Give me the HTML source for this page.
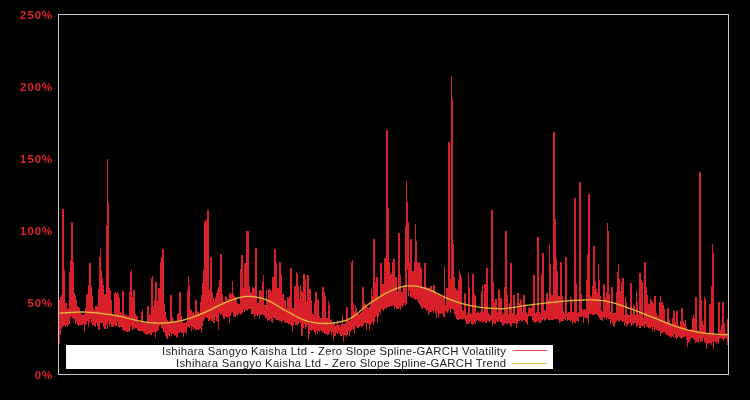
<!DOCTYPE html>
<html><head><meta charset="utf-8"><title>Volatility</title>
<style>
html,body{margin:0;padding:0;background:#000;}
body{width:750px;height:400px;position:relative;overflow:hidden;font-family:"Liberation Sans",sans-serif;}
svg{position:absolute;left:0;top:0;}
.yl{position:absolute;left:0;width:53.2px;text-align:right;color:#e2222c;font:bold 11.3px/16px "Liberation Sans",sans-serif;letter-spacing:1.05px;height:16px;will-change:transform;}
.lg{position:absolute;left:66px;top:345px;width:487px;height:24px;background:#fff;}
.lt{position:absolute;right:46.5px;white-space:nowrap;color:#1c1c1c;font:11.3px/12px "Liberation Sans",sans-serif;letter-spacing:0.27px;height:12px;will-change:transform;}
</style></head><body>
<svg width="750" height="400" viewBox="0 0 750 400">
<rect x="0" y="0" width="750" height="400" fill="#000"/>
<path d="M59.5 300V344M60.5 297V335M61.5 295V329M62.5 209V327M63.5 209V326M64.5 270V325M65.5 303V327M66.5 303V325M67.5 309V327M68.5 308V325M69.5 272V324M70.5 260V318M71.5 222V316M72.5 222V318M73.5 262V321M74.5 293V319M75.5 295V324M76.5 300V322M77.5 306V325M78.5 307V326M79.5 308V325M80.5 313V325M81.5 314V325M82.5 315V325M83.5 315V324M84.5 314V332M85.5 308V325M86.5 294V324M87.5 294V321M88.5 285V327M89.5 263V323M90.5 263V319M91.5 287V323M92.5 296V325M93.5 308V325M94.5 310V326M95.5 306V327M96.5 306V323M97.5 306V326M98.5 289V330M99.5 257V330M100.5 249V323M101.5 270V323M102.5 278V323M103.5 285V327M104.5 294V329M105.5 294V329M106.5 225V325M107.5 159V329M108.5 203V322M109.5 288V327M110.5 290V324M111.5 300V327M112.5 314V327M113.5 315V327M114.5 293V325M115.5 292V326M116.5 294V326M117.5 292V322M118.5 294V327M119.5 298V328M120.5 312V327M121.5 313V327M122.5 291V330M123.5 291V330M124.5 314V331M125.5 315V331M126.5 315V332M127.5 316V332M128.5 316V332M129.5 292V331M130.5 272V327M131.5 270V326M132.5 297V330M133.5 290V329M134.5 290V329M135.5 314V328M136.5 316V328M137.5 316V330M138.5 321V331M139.5 323V331M140.5 322V331M141.5 312V331M142.5 310V331M143.5 321V332M144.5 323V333M145.5 322V334M146.5 322V335M147.5 306V334M148.5 306V334M149.5 314V334M150.5 314V335M151.5 278V335M152.5 276V333M153.5 306V332M154.5 300V332M155.5 282V338M156.5 282V332M157.5 301V331M158.5 288V330M159.5 288V326M160.5 262V325M161.5 257V328M162.5 249V329M163.5 249V332M164.5 304V332M165.5 312V336M166.5 318V338M167.5 320V339M168.5 322V335M169.5 321V337M170.5 295V333M171.5 295V336M172.5 317V334M173.5 319V334M174.5 322V336M175.5 322V335M176.5 322V337M177.5 314V338M178.5 313V333M179.5 292V333M180.5 292V332M181.5 316V333M182.5 321V333M183.5 323V337M184.5 323V333M185.5 323V332M186.5 322V334M187.5 290V327M188.5 276V327M189.5 285V328M190.5 309V326M191.5 310V331M192.5 313V327M193.5 312V330M194.5 314V328M195.5 300V330M196.5 300V330M197.5 311V330M198.5 312V330M199.5 313V329M200.5 302V329M201.5 295V333M202.5 283V326M203.5 270V321M204.5 222V319M205.5 220V317M206.5 220V318M207.5 210V318M208.5 210V321M209.5 290V321M210.5 257V319M211.5 257V321M212.5 292V321M213.5 298V323M214.5 301V323M215.5 297V317M216.5 293V321M217.5 290V322M218.5 287V330M219.5 280V313M220.5 254V315M221.5 254V314M222.5 294V316M223.5 301V319M224.5 303V319M225.5 296V317M226.5 297V317M227.5 299V317M228.5 299V317M229.5 293V323M230.5 293V316M231.5 294V313M232.5 281V312M233.5 294V316M234.5 296V317M235.5 297V317M236.5 298V315M237.5 303V316M238.5 304V314M239.5 304V313M240.5 269V315M241.5 255V314M242.5 255V313M243.5 288V310M244.5 263V312M245.5 263V310M246.5 231V310M247.5 231V311M248.5 231V309M249.5 286V309M250.5 292V309M251.5 293V314M252.5 287V314M253.5 288V314M254.5 288V319M255.5 248V316M256.5 248V315M257.5 303V316M258.5 303V315M259.5 290V319M260.5 290V315M261.5 291V315M262.5 282V314M263.5 275V315M264.5 305V316M265.5 305V318M266.5 290V318M267.5 300V321M268.5 289V320M269.5 289V321M270.5 290V319M271.5 292V322M272.5 277V323M273.5 277V318M274.5 249V318M275.5 249V319M276.5 263V320M277.5 288V320M278.5 288V320M279.5 262V321M280.5 262V321M281.5 274V323M282.5 294V321M283.5 294V320M284.5 300V322M285.5 300V323M286.5 308V323M287.5 297V323M288.5 298V324M289.5 296V324M290.5 268V325M291.5 268V326M292.5 308V332M293.5 308V325M294.5 286V322M295.5 286V325M296.5 272V325M297.5 274V326M298.5 286V324M299.5 299V322M300.5 285V323M301.5 290V336M302.5 292V335M303.5 274V328M304.5 274V324M305.5 279V329M306.5 301V327M307.5 275V325M308.5 275V340M309.5 289V334M310.5 289V330M311.5 300V331M312.5 314V330M313.5 314V330M314.5 303V332M315.5 292V335M316.5 292V331M317.5 300V333M318.5 299V331M319.5 316V332M320.5 318V330M321.5 318V331M322.5 287V333M323.5 287V332M324.5 292V334M325.5 296V334M326.5 318V334M327.5 318V335M328.5 301V335M329.5 305V333M330.5 320V331M331.5 319V335M332.5 322V332M333.5 322V341M334.5 322V336M335.5 326V336M336.5 325V333M337.5 321V334M338.5 325V332M339.5 325V334M340.5 326V336M341.5 324V336M342.5 314V335M343.5 324V342M344.5 324V335M345.5 323V335M346.5 307V337M347.5 307V335M348.5 319V331M349.5 321V336M350.5 320V332M351.5 262V330M352.5 260V329M353.5 303V330M354.5 312V334M355.5 305V326M356.5 308V327M357.5 313V328M358.5 314V328M359.5 314V327M360.5 313V326M361.5 312V327M362.5 287V327M363.5 287V325M364.5 302V323M365.5 304V323M366.5 306V330M367.5 307V324M368.5 308V324M369.5 307V330M370.5 303V325M371.5 289V323M372.5 296V322M373.5 239V325M374.5 239V322M375.5 282V317M376.5 277V316M377.5 277V323M378.5 297V317M379.5 296V312M380.5 263V314M381.5 263V309M382.5 284V310M383.5 284V311M384.5 258V309M385.5 258V308M386.5 130V309M387.5 130V307M388.5 208V307M389.5 262V307M390.5 273V306M391.5 274V306M392.5 262V306M393.5 258V305M394.5 260V309M395.5 277V307M396.5 277V309M397.5 292V309M398.5 233V309M399.5 233V307M400.5 275V310M401.5 292V306M402.5 292V307M403.5 286V305M404.5 285V303M405.5 226V306M406.5 181V304M407.5 202V270M408.5 222V296M409.5 262V291M410.5 239V297M411.5 239V298M412.5 271V297M413.5 271V299M414.5 262V299M415.5 224V300M416.5 241V299M417.5 262V300M418.5 263V303M419.5 262V304M420.5 266V306M421.5 268V308M422.5 286V309M423.5 287V307M424.5 263V308M425.5 263V309M426.5 287V311M427.5 288V310M428.5 288V315M429.5 288V313M430.5 286V312M431.5 286V312M432.5 290V311M433.5 285V313M434.5 285V310M435.5 292V313M436.5 293V318M437.5 293V312M438.5 293V318M439.5 294V314M440.5 295V314M441.5 296V313M442.5 297V314M443.5 296V317M444.5 266V317M445.5 305V311M446.5 288V312M447.5 288V313M448.5 142V311M449.5 142V309M450.5 279V313M451.5 76V309M452.5 99V309M453.5 244V310M454.5 277V314M455.5 288V316M456.5 290V319M457.5 290V320M458.5 280V320M459.5 270V319M460.5 274V319M461.5 277V319M462.5 310V320M463.5 311V319M464.5 293V319M465.5 294V321M466.5 315V324M467.5 313V324M468.5 273V324M469.5 287V323M470.5 313V321M471.5 314V324M472.5 274V325M473.5 274V324M474.5 294V323M475.5 296V324M476.5 313V321M477.5 312V320M478.5 311V321M479.5 313V321M480.5 312V322M481.5 291V321M482.5 285V323M483.5 312V322M484.5 284V321M485.5 284V323M486.5 268V323M487.5 268V321M488.5 313V321M489.5 314V322M490.5 315V321M491.5 210V320M492.5 210V326M493.5 282V323M494.5 302V324M495.5 299V324M496.5 299V321M497.5 312V322M498.5 289V322M499.5 290V321M500.5 298V322M501.5 298V323M502.5 313V326M503.5 314V325M504.5 287V324M505.5 231V323M506.5 231V324M507.5 295V324M508.5 314V323M509.5 303V324M510.5 263V327M511.5 263V326M512.5 313V323M513.5 295V323M514.5 295V324M515.5 315V323M516.5 314V328M517.5 293V324M518.5 293V321M519.5 303V321M520.5 299V320M521.5 301V322M522.5 312V321M523.5 295V320M524.5 295V320M525.5 306V322M526.5 312V323M527.5 314V325M528.5 308V317M529.5 307V316M530.5 308V316M531.5 308V316M532.5 305V320M533.5 275V322M534.5 275V322M535.5 313V323M536.5 312V322M537.5 237V321M538.5 237V321M539.5 312V323M540.5 314V323M541.5 274V321M542.5 253V320M543.5 253V319M544.5 310V321M545.5 311V320M546.5 293V319M547.5 293V318M548.5 299V320M549.5 245V320M550.5 264V320M551.5 295V320M552.5 295V320M553.5 132V320M554.5 132V319M555.5 219V319M556.5 258V319M557.5 271V319M558.5 296V320M559.5 296V323M560.5 262V322M561.5 262V321M562.5 296V321M563.5 311V321M564.5 313V319M565.5 257V320M566.5 257V317M567.5 313V321M568.5 312V320M569.5 312V320M570.5 297V322M571.5 299V320M572.5 312V324M573.5 312V322M574.5 198V323M575.5 198V323M576.5 284V321M577.5 313V321M578.5 312V322M579.5 182V317M580.5 182V317M581.5 294V317M582.5 309V316M583.5 310V323M584.5 309V318M585.5 310V318M586.5 280V318M587.5 254V319M588.5 194V324M589.5 194V314M590.5 295V315M591.5 297V314M592.5 286V315M593.5 246V315M594.5 246V315M595.5 281V314M596.5 289V314M597.5 292V315M598.5 264V317M599.5 280V319M600.5 296V320M601.5 310V320M602.5 312V321M603.5 284V317M604.5 284V319M605.5 297V317M606.5 292V320M607.5 223V318M608.5 231V319M609.5 294V319M610.5 312V324M611.5 287V321M612.5 287V323M613.5 313V326M614.5 313V327M615.5 313V323M616.5 292V321M617.5 272V320M618.5 264V322M619.5 279V321M620.5 291V320M621.5 282V321M622.5 278V322M623.5 278V322M624.5 315V326M625.5 297V323M626.5 302V327M627.5 314V325M628.5 315V324M629.5 315V323M630.5 283V323M631.5 283V326M632.5 314V324M633.5 305V325M634.5 306V323M635.5 315V323M636.5 291V327M637.5 302V326M638.5 315V325M639.5 273V328M640.5 273V328M641.5 280V326M642.5 282V326M643.5 318V326M644.5 262V328M645.5 262V324M646.5 287V326M647.5 295V327M648.5 304V328M649.5 304V328M650.5 298V329M651.5 300V327M652.5 302V331M653.5 303V327M654.5 296V332M655.5 296V329M656.5 313V330M657.5 315V330M658.5 316V331M659.5 302V331M660.5 296V336M661.5 302V333M662.5 302V333M663.5 305V332M664.5 309V332M665.5 322V334M666.5 323V335M667.5 308V335M668.5 308V336M669.5 319V336M670.5 325V338M671.5 325V337M672.5 318V336M673.5 311V338M674.5 311V334M675.5 322V338M676.5 311V339M677.5 311V338M678.5 325V336M679.5 326V337M680.5 321V338M681.5 308V339M682.5 308V338M683.5 322V337M684.5 324V337M685.5 320V336M686.5 327V340M687.5 329V347M688.5 330V342M689.5 331V343M690.5 331V339M691.5 329V338M692.5 318V338M693.5 315V339M694.5 318V340M695.5 297V343M696.5 297V342M697.5 330V342M698.5 331V343M699.5 172V339M700.5 172V342M701.5 300V342M702.5 321V341M703.5 325V338M704.5 297V342M705.5 299V343M706.5 333V349M707.5 334V344M708.5 334V343M709.5 304V344M710.5 304V343M711.5 286V345M712.5 244V342M713.5 253V349M714.5 334V341M715.5 335V342M716.5 335V344M717.5 334V342M718.5 302V344M719.5 302V339M720.5 330V338M721.5 325V339M722.5 302V339M723.5 302V341M724.5 323V339M725.5 333V338M726.5 334V339M727.5 319V345M728.5 322V344" stroke="#d8202a" stroke-width="1" fill="none" shape-rendering="crispEdges"/>
<path d="M59.5 313.1L60.5 313.1L61.5 313.0L62.5 313.0L63.5 312.9L64.5 312.8L65.5 312.8L66.5 312.7L67.5 312.7L68.5 312.6L69.5 312.5L70.5 312.5L71.5 312.4L72.5 312.3L73.5 312.3L74.5 312.2L75.5 312.2L76.5 312.1L77.5 312.1L78.5 312.1L79.5 312.0L80.5 312.0L81.5 312.0L82.5 312.0L83.5 312.0L84.5 312.1L85.5 312.1L86.5 312.1L87.5 312.2L88.5 312.3L89.5 312.3L90.5 312.4L91.5 312.5L92.5 312.5L93.5 312.6L94.5 312.7L95.5 312.8L96.5 312.9L97.5 313.0L98.5 313.1L99.5 313.2L100.5 313.3L101.5 313.5L102.5 313.6L103.5 313.7L104.5 313.8L105.5 314.0L106.5 314.1L107.5 314.3L108.5 314.4L109.5 314.5L110.5 314.7L111.5 314.9L112.5 315.0L113.5 315.2L114.5 315.3L115.5 315.5L116.5 315.7L117.5 315.9L118.5 316.0L119.5 316.3L120.5 316.5L121.5 316.7L122.5 316.9L123.5 317.1L124.5 317.4L125.5 317.6L126.5 317.9L127.5 318.1L128.5 318.4L129.5 318.6L130.5 318.9L131.5 319.1L132.5 319.4L133.5 319.6L134.5 319.9L135.5 320.1L136.5 320.3L137.5 320.6L138.5 320.8L139.5 321.0L140.5 321.2L141.5 321.4L142.5 321.6L143.5 321.8L144.5 321.9L145.5 322.1L146.5 322.2L147.5 322.4L148.5 322.5L149.5 322.6L150.5 322.7L151.5 322.8L152.5 322.9L153.5 322.9L154.5 323.0L155.5 323.0L156.5 323.1L157.5 323.1L158.5 323.1L159.5 323.1L160.5 323.1L161.5 323.1L162.5 323.0L163.5 323.0L164.5 323.0L165.5 322.9L166.5 322.8L167.5 322.7L168.5 322.7L169.5 322.6L170.5 322.4L171.5 322.3L172.5 322.2L173.5 322.0L174.5 321.9L175.5 321.7L176.5 321.5L177.5 321.3L178.5 321.2L179.5 320.9L180.5 320.7L181.5 320.5L182.5 320.3L183.5 320.0L184.5 319.8L185.5 319.5L186.5 319.2L187.5 318.9L188.5 318.6L189.5 318.3L190.5 318.0L191.5 317.6L192.5 317.3L193.5 316.9L194.5 316.6L195.5 316.2L196.5 315.8L197.5 315.4L198.5 315.0L199.5 314.6L200.5 314.2L201.5 313.8L202.5 313.4L203.5 312.9L204.5 312.5L205.5 312.1L206.5 311.7L207.5 311.2L208.5 310.7L209.5 310.3L210.5 309.8L211.5 309.3L212.5 308.8L213.5 308.2L214.5 307.7L215.5 307.2L216.5 306.7L217.5 306.2L218.5 305.7L219.5 305.2L220.5 304.7L221.5 304.2L222.5 303.8L223.5 303.3L224.5 302.9L225.5 302.5L226.5 302.1L227.5 301.7L228.5 301.3L229.5 300.9L230.5 300.5L231.5 300.2L232.5 299.8L233.5 299.4L234.5 299.1L235.5 298.7L236.5 298.4L237.5 298.1L238.5 297.8L239.5 297.5L240.5 297.3L241.5 297.1L242.5 296.9L243.5 296.7L244.5 296.6L245.5 296.5L246.5 296.4L247.5 296.4L248.5 296.4L249.5 296.4L250.5 296.4L251.5 296.5L252.5 296.6L253.5 296.7L254.5 296.8L255.5 296.9L256.5 297.1L257.5 297.3L258.5 297.5L259.5 297.7L260.5 298.0L261.5 298.2L262.5 298.5L263.5 298.8L264.5 299.2L265.5 299.5L266.5 299.9L267.5 300.3L268.5 300.7L269.5 301.2L270.5 301.7L271.5 302.2L272.5 302.8L273.5 303.4L274.5 304.0L275.5 304.6L276.5 305.2L277.5 305.8L278.5 306.4L279.5 307.0L280.5 307.6L281.5 308.2L282.5 308.8L283.5 309.4L284.5 310.0L285.5 310.5L286.5 311.0L287.5 311.6L288.5 312.1L289.5 312.7L290.5 313.2L291.5 313.8L292.5 314.4L293.5 314.9L294.5 315.5L295.5 316.0L296.5 316.5L297.5 317.1L298.5 317.6L299.5 318.0L300.5 318.5L301.5 319.0L302.5 319.4L303.5 319.8L304.5 320.2L305.5 320.5L306.5 320.8L307.5 321.1L308.5 321.4L309.5 321.6L310.5 321.9L311.5 322.1L312.5 322.3L313.5 322.5L314.5 322.7L315.5 322.8L316.5 322.9L317.5 323.1L318.5 323.2L319.5 323.3L320.5 323.3L321.5 323.4L322.5 323.4L323.5 323.5L324.5 323.5L325.5 323.5L326.5 323.5L327.5 323.5L328.5 323.4L329.5 323.4L330.5 323.3L331.5 323.2L332.5 323.1L333.5 323.0L334.5 322.9L335.5 322.7L336.5 322.5L337.5 322.4L338.5 322.2L339.5 322.0L340.5 321.8L341.5 321.5L342.5 321.3L343.5 321.0L344.5 320.8L345.5 320.5L346.5 320.2L347.5 319.8L348.5 319.3L349.5 318.8L350.5 318.3L351.5 317.7L352.5 317.0L353.5 316.4L354.5 315.7L355.5 315.0L356.5 314.3L357.5 313.5L358.5 312.6L359.5 311.7L360.5 310.8L361.5 309.9L362.5 309.0L363.5 308.2L364.5 307.3L365.5 306.5L366.5 305.7L367.5 305.0L368.5 304.3L369.5 303.5L370.5 302.8L371.5 302.2L372.5 301.5L373.5 300.8L374.5 300.2L375.5 299.5L376.5 298.9L377.5 298.2L378.5 297.6L379.5 297.0L380.5 296.4L381.5 295.8L382.5 295.2L383.5 294.6L384.5 294.0L385.5 293.5L386.5 293.0L387.5 292.5L388.5 292.0L389.5 291.5L390.5 291.0L391.5 290.5L392.5 290.1L393.5 289.7L394.5 289.3L395.5 288.9L396.5 288.5L397.5 288.2L398.5 287.8L399.5 287.5L400.5 287.2L401.5 286.9L402.5 286.7L403.5 286.5L404.5 286.3L405.5 286.1L406.5 286.0L407.5 285.9L408.5 285.8L409.5 285.8L410.5 285.8L411.5 285.8L412.5 285.8L413.5 285.9L414.5 286.0L415.5 286.1L416.5 286.2L417.5 286.4L418.5 286.6L419.5 286.8L420.5 287.1L421.5 287.3L422.5 287.6L423.5 287.9L424.5 288.2L425.5 288.5L426.5 288.8L427.5 289.2L428.5 289.6L429.5 289.9L430.5 290.3L431.5 290.8L432.5 291.2L433.5 291.6L434.5 292.1L435.5 292.5L436.5 293.0L437.5 293.5L438.5 294.0L439.5 294.5L440.5 295.0L441.5 295.5L442.5 296.0L443.5 296.5L444.5 297.0L445.5 297.5L446.5 297.9L447.5 298.4L448.5 298.8L449.5 299.2L450.5 299.6L451.5 300.0L452.5 300.4L453.5 300.8L454.5 301.1L455.5 301.5L456.5 301.8L457.5 302.2L458.5 302.5L459.5 302.8L460.5 303.1L461.5 303.4L462.5 303.7L463.5 304.0L464.5 304.2L465.5 304.5L466.5 304.7L467.5 305.0L468.5 305.2L469.5 305.4L470.5 305.6L471.5 305.8L472.5 306.0L473.5 306.2L474.5 306.3L475.5 306.5L476.5 306.7L477.5 306.8L478.5 307.0L479.5 307.1L480.5 307.3L481.5 307.4L482.5 307.6L483.5 307.7L484.5 307.8L485.5 307.9L486.5 308.0L487.5 308.1L488.5 308.2L489.5 308.2L490.5 308.3L491.5 308.3L492.5 308.4L493.5 308.4L494.5 308.5L495.5 308.5L496.5 308.5L497.5 308.6L498.5 308.6L499.5 308.6L500.5 308.7L501.5 308.7L502.5 308.7L503.5 308.6L504.5 308.6L505.5 308.5L506.5 308.4L507.5 308.3L508.5 308.2L509.5 308.0L510.5 307.9L511.5 307.7L512.5 307.6L513.5 307.4L514.5 307.3L515.5 307.1L516.5 306.9L517.5 306.8L518.5 306.6L519.5 306.4L520.5 306.3L521.5 306.1L522.5 305.9L523.5 305.8L524.5 305.6L525.5 305.5L526.5 305.4L527.5 305.2L528.5 305.1L529.5 305.0L530.5 304.8L531.5 304.7L532.5 304.6L533.5 304.5L534.5 304.4L535.5 304.2L536.5 304.1L537.5 304.0L538.5 303.9L539.5 303.8L540.5 303.7L541.5 303.5L542.5 303.4L543.5 303.3L544.5 303.2L545.5 303.1L546.5 303.0L547.5 302.9L548.5 302.8L549.5 302.7L550.5 302.6L551.5 302.4L552.5 302.3L553.5 302.2L554.5 302.1L555.5 302.0L556.5 301.9L557.5 301.8L558.5 301.7L559.5 301.6L560.5 301.5L561.5 301.4L562.5 301.4L563.5 301.3L564.5 301.2L565.5 301.1L566.5 301.0L567.5 300.9L568.5 300.9L569.5 300.8L570.5 300.7L571.5 300.6L572.5 300.6L573.5 300.5L574.5 300.4L575.5 300.4L576.5 300.3L577.5 300.3L578.5 300.2L579.5 300.2L580.5 300.1L581.5 300.1L582.5 300.0L583.5 300.0L584.5 299.9L585.5 299.9L586.5 299.9L587.5 299.9L588.5 299.9L589.5 299.9L590.5 299.9L591.5 299.9L592.5 299.9L593.5 300.0L594.5 300.0L595.5 300.1L596.5 300.2L597.5 300.2L598.5 300.3L599.5 300.4L600.5 300.5L601.5 300.6L602.5 300.7L603.5 300.8L604.5 300.9L605.5 301.1L606.5 301.3L607.5 301.5L608.5 301.7L609.5 301.9L610.5 302.2L611.5 302.4L612.5 302.7L613.5 302.9L614.5 303.2L615.5 303.5L616.5 303.8L617.5 304.1L618.5 304.4L619.5 304.8L620.5 305.1L621.5 305.5L622.5 305.8L623.5 306.2L624.5 306.5L625.5 306.9L626.5 307.3L627.5 307.6L628.5 308.0L629.5 308.3L630.5 308.7L631.5 309.0L632.5 309.4L633.5 309.8L634.5 310.1L635.5 310.5L636.5 310.9L637.5 311.3L638.5 311.7L639.5 312.1L640.5 312.5L641.5 312.9L642.5 313.3L643.5 313.7L644.5 314.1L645.5 314.5L646.5 314.9L647.5 315.3L648.5 315.7L649.5 316.1L650.5 316.5L651.5 316.9L652.5 317.3L653.5 317.7L654.5 318.1L655.5 318.5L656.5 318.9L657.5 319.3L658.5 319.7L659.5 320.1L660.5 320.5L661.5 320.9L662.5 321.3L663.5 321.6L664.5 322.0L665.5 322.4L666.5 322.8L667.5 323.2L668.5 323.6L669.5 324.0L670.5 324.4L671.5 324.8L672.5 325.2L673.5 325.5L674.5 325.9L675.5 326.3L676.5 326.6L677.5 326.9L678.5 327.3L679.5 327.6L680.5 327.9L681.5 328.2L682.5 328.5L683.5 328.8L684.5 329.0L685.5 329.3L686.5 329.6L687.5 329.8L688.5 330.1L689.5 330.3L690.5 330.5L691.5 330.8L692.5 331.0L693.5 331.2L694.5 331.4L695.5 331.6L696.5 331.8L697.5 332.0L698.5 332.2L699.5 332.3L700.5 332.5L701.5 332.7L702.5 332.8L703.5 333.0L704.5 333.1L705.5 333.2L706.5 333.3L707.5 333.4L708.5 333.5L709.5 333.6L710.5 333.7L711.5 333.8L712.5 333.9L713.5 334.0L714.5 334.1L715.5 334.1L716.5 334.2L717.5 334.3L718.5 334.4L719.5 334.4L720.5 334.5L721.5 334.6L722.5 334.6L723.5 334.6L724.5 334.6L725.5 334.6L726.5 334.5L727.5 334.5L728.5 334.5" stroke="#deb83a" stroke-width="1.35" fill="none" stroke-linejoin="round"/>
<rect x="58.5" y="14.5" width="670" height="360" fill="none" stroke="#c8c8c8" stroke-width="1" shape-rendering="crispEdges"/>
</svg>
<div class="yl" style="top:7.4px">250%</div><div class="yl" style="top:79.4px">200%</div><div class="yl" style="top:151.4px">150%</div><div class="yl" style="top:223.4px">100%</div><div class="yl" style="top:295.4px">50%</div><div class="yl" style="top:367.4px">0%</div>
<div class="lg">
<div class="lt" style="top:0px">Ishihara Sangyo Kaisha Ltd - Zero Slope Spline-GARCH Volatility</div>
<div class="lt" style="top:12px">Ishihara Sangyo Kaisha Ltd - Zero Slope Spline-GARCH Trend</div>
<svg width="487" height="24" style="left:0;top:0"><path d="M447 5.5H481" stroke="#e04a56" stroke-width="1" shape-rendering="crispEdges"/><path d="M447 18.5H481" stroke="#dcbc58" stroke-width="1" shape-rendering="crispEdges"/></svg>
</div>
</body></html>
